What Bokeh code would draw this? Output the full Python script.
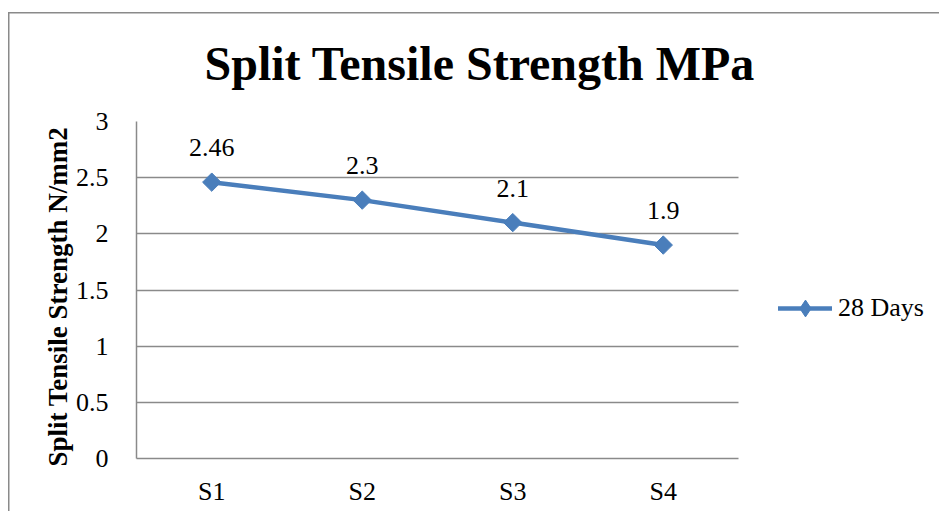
import numpy as np
from bokeh.plotting import figure
from bokeh.models import (Range1d, FixedTicker, ColumnDataSource, Grid,
                          LabelSet, Legend, LegendItem, Title)
from bokeh.embed import file_html
from bokeh.resources import INLINE

# ---- data ----
categories = ["S1", "S2", "S3", "S4"]
strength_28_days = [2.46, 2.3, 2.1, 1.9]
label_texts = ["2.46", "2.3", "2.1", "1.9"]
y_ticks = [0, 0.5, 1, 1.5, 2, 2.5, 3]
y_tick_labels = ["0", "0.5", "1", "1.5", "2", "2.5", "3"]
series_name = "28 Days"
title_text = "Split Tensile Strength MPa"
y_axis_title = "Split Tensile Strength N/mm2"

SERIF = "Liberation Serif"
GRID = "#8a8a8a"
BLUE = "#4a7ebb"

n = len(categories)
x_pos = [i + 0.5 for i in range(n)]          # category centres
src = ColumnDataSource(dict(x=x_pos, y=strength_28_days, t=label_texts))

# plot frame spans the whole right side; categories occupy the first 602 px
FRAME_W = 939 - 136
CAT_W = 602 / n
p = figure(width=939, height=511, output_backend="svg", toolbar_location=None,
           x_range=Range1d(0, FRAME_W / CAT_W), y_range=Range1d(0, 3),
           min_border_left=136, min_border_right=0,
           min_border_top=121, min_border_bottom=53)
p.title = None
p.outline_line_color = None
p.border_fill_color = None
p.background_fill_color = None
p.styles = {
    "background": ("linear-gradient(#8a8a8a,#8a8a8a) 8px 12px / 100% 1.5px no-repeat, "
                   "linear-gradient(#8a8a8a,#8a8a8a) 8px 12px / 1.5px 100% no-repeat, white")
}

t = Title(text=title_text, text_font=SERIF, text_font_size="48px",
          text_font_style="bold", text_color="black", align="left",
          offset=68, standoff=63)
p.add_layout(t, "above")

# y-axis title as a side title (allows shifting along the axis)
yt = Title(text=y_axis_title, text_font=SERIF, text_font_size="27px",
           text_font_style="bold", text_color="black", align="left",
           offset=-8, standoff=0)
p.add_layout(yt, "left")

# axes
p.xaxis.ticker = FixedTicker(ticks=x_pos)
p.xaxis.major_label_overrides = {v: s for v, s in zip(x_pos, categories)}
p.xaxis.bounds = (0, n)
p.xaxis.axis_line_color = GRID
p.xaxis.axis_line_width = 1.5
p.xaxis.major_tick_line_color = None
p.xaxis.minor_tick_line_color = None
p.xaxis.major_label_text_font = SERIF
p.xaxis.major_label_text_font_size = "26px"
p.xaxis.major_label_text_color = "black"
p.xaxis.major_label_standoff = 12

p.yaxis.ticker = FixedTicker(ticks=y_ticks)
p.yaxis.major_label_overrides = {v: s for v, s in zip(y_ticks, y_tick_labels)}
p.yaxis.axis_line_color = GRID
p.yaxis.axis_line_width = 1.5
p.yaxis.major_tick_line_color = None
p.yaxis.minor_tick_line_color = None
p.yaxis.major_label_text_font = SERIF
p.yaxis.major_label_text_font_size = "26px"
p.yaxis.major_label_text_color = "black"
p.yaxis.major_label_standoff = 22

p.xgrid.grid_line_color = None
if "cross_bounds" in Grid.properties():
    p.ygrid.grid_line_color = GRID
    p.ygrid.grid_line_width = 1.5
    p.ygrid.cross_bounds = (0, n)
else:
    p.ygrid.grid_line_color = None
    p.multi_line(xs=[[0, n] for _ in y_ticks], ys=[[v, v] for v in y_ticks],
                 line_color=GRID, line_width=1.5)

line = p.line("x", "y", source=src, line_color=BLUE, line_width=4.5, line_cap="round")
# diamond used for the legend swatch, hidden under the plotted markers
leg_marker = p.scatter("x", "y", source=src, marker="diamond", size=15,
                       fill_color=BLUE, line_color=BLUE)
pts = p.scatter("x", "y", source=src, marker="square", angle=np.pi / 4, size=13,
                fill_color=BLUE, line_color=BLUE)

labels = LabelSet(x="x", y="y", text="t", source=src, text_font=SERIF,
                  text_font_size="26px", text_color="black", text_align="center",
                  text_baseline="alphabetic", y_offset=26)
p.add_layout(labels)

legend = Legend(items=[LegendItem(label=series_name, renderers=[line, leg_marker])],
                location=(642, 129), padding=0, margin=0, border_line_color=None,
                background_fill_alpha=0, glyph_width=54, glyph_height=42,
                label_standoff=6, label_text_font=SERIF, label_text_font_size="26px",
                label_text_color="black")
p.add_layout(legend, "center")

open("out.html", "w").write(file_html(p, INLINE))
